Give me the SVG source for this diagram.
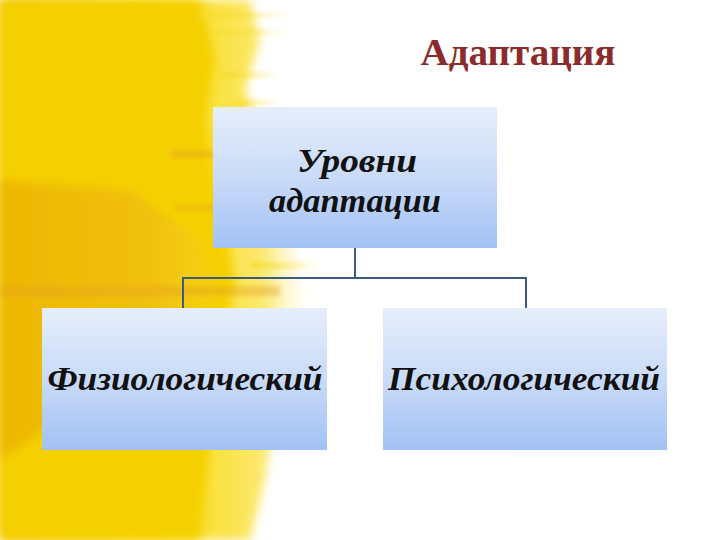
<svg xmlns="http://www.w3.org/2000/svg" width="720" height="540" viewBox="0 0 720 540">
<defs>
<linearGradient id="box" x1="0" y1="0" x2="0" y2="1">
<stop offset="0" stop-color="#e6eefb"/>
<stop offset="0.5" stop-color="#c9dbf8"/>
<stop offset="1" stop-color="#a2c1f4"/>
</linearGradient>
<linearGradient id="paint" x1="0" y1="0" x2="1" y2="0">
<stop offset="0" stop-color="#f0c000"/>
<stop offset="0.5" stop-color="#f7d800"/>
<stop offset="0.85" stop-color="#fbe970"/>
<stop offset="1" stop-color="#fff8d0" stop-opacity="0"/>
</linearGradient>
<linearGradient id="orange" x1="0" y1="0" x2="1" y2="0">
<stop offset="0" stop-color="#e4a000"/>
<stop offset="0.7" stop-color="#eeb420"/>
<stop offset="1" stop-color="#f5d060" stop-opacity="0"/>
</linearGradient>
<linearGradient id="fade" x1="0" y1="0" x2="1" y2="0">
<stop offset="0" stop-color="#f6dc30" stop-opacity="0.8"/>
<stop offset="1" stop-color="#f6dc30" stop-opacity="0"/>
</linearGradient>
<filter id="blur" x="-20%" y="-20%" width="140%" height="140%">
<feGaussianBlur stdDeviation="5"/>
</filter>
<filter id="blur2" x="-20%" y="-50%" width="140%" height="200%">
<feGaussianBlur stdDeviation="2"/>
</filter>
<style>
.node rect { fill: url(#box); }
.lbl { font-family: "Liberation Serif", "DejaVu Serif", serif; font-weight: bold; font-style: italic; font-size: 34px; fill: #111; text-anchor: middle; }
.conn { stroke: #3b5b82; stroke-width: 2; fill: none; }
.streak { fill: url(#fade); filter: url(#blur2); }
.ostreak { fill: #e4a020; opacity: 0.4; filter: url(#blur2); }
</style>
</defs>
<rect width="720" height="540" fill="#ffffff"/>
<g id="background">
<path d="M0,0 L250,0 L260,40 L245,90 L265,140 L280,200 L300,260 L310,300 L290,360 L275,420 L265,480 L250,540 L0,540 Z" fill="url(#paint)" filter="url(#blur)"/>
<path d="M0,0 L200,0 L215,60 L205,120 L220,200 L235,280 L220,360 L210,440 L200,540 L0,540 Z" fill="#f5d000" filter="url(#blur)"/>
<path d="M0,180 L130,190 L200,240 L230,300 L150,330 L60,420 L0,460 Z" fill="url(#orange)" opacity="0.5" filter="url(#blur)"/>
<rect class="streak" x="200" y="12" width="90" height="6"/>
<rect class="streak" x="210" y="30" width="80" height="5"/>
<rect class="streak" x="220" y="72" width="60" height="6"/>
<rect class="streak" x="230" y="100" width="50" height="5"/>
<rect class="streak" x="250" y="262" width="70" height="7"/>
<rect class="streak" x="240" y="320" width="80" height="6"/>
<rect class="ostreak" x="0" y="286" width="280" height="10"/>
<rect class="ostreak" x="170" y="150" width="45" height="8"/>
<rect class="ostreak" x="175" y="205" width="40" height="6"/>
</g>
<text x="518" y="65" font-family="Liberation Serif, DejaVu Serif, serif" font-weight="bold" font-size="37" fill="#8b2b2b" text-anchor="middle" textLength="195" lengthAdjust="spacingAndGlyphs">Адаптация</text>
<g id="connectors">
<path class="conn" d="M355,248 V278"/>
<path class="conn" d="M183,308 V278 H526 V308"/>
</g>
<g id="node-levels" class="node">
<rect x="213" y="107" width="284" height="141"/>
<text class="lbl" x="357" y="172" textLength="120" lengthAdjust="spacingAndGlyphs">Уровни</text>
<text class="lbl" x="355" y="212" textLength="172" lengthAdjust="spacingAndGlyphs">адаптации</text>
</g>
<g id="node-physio" class="node">
<rect x="42" y="308" width="285" height="142"/>
<text class="lbl" x="185" y="390" textLength="275" lengthAdjust="spacingAndGlyphs">Физиологический</text>
</g>
<g id="node-psycho" class="node">
<rect x="383" y="308" width="284" height="142"/>
<text class="lbl" x="524" y="390" textLength="272" lengthAdjust="spacingAndGlyphs">Психологический</text>
</g>
</svg>
